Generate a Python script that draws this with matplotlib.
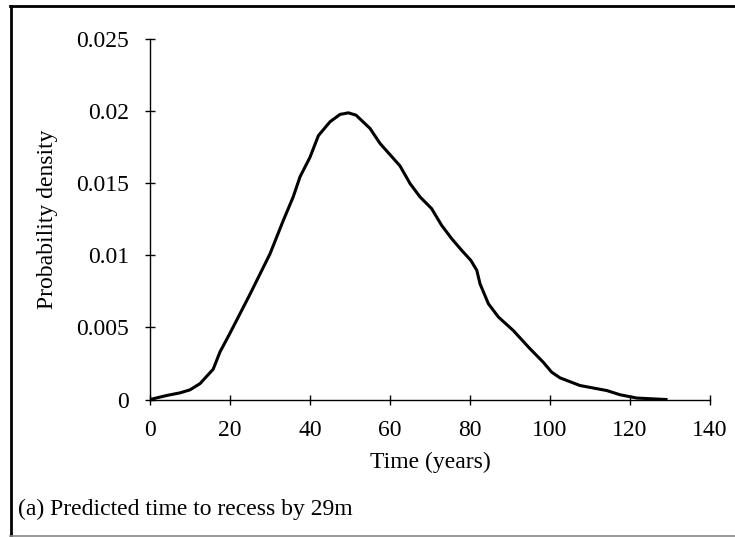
import matplotlib
matplotlib.use("Agg")
import matplotlib.pyplot as plt
from matplotlib.lines import Line2D

time_years = [0, 4.2, 7.5, 10, 12.5, 15.8, 17.5, 20, 25, 30, 33.3, 35.8, 37.5, 40, 42.1, 45,
              47.5, 49.6, 51.5, 55, 57.5, 62.5, 65, 67.5, 70.4, 72.9, 75.4, 77.9, 80.2, 81.7,
              82.5, 84.6, 87.1, 90.8, 95, 98.3, 100.4, 102.5, 107.5, 114.2, 117.5, 121.7, 129]
density = [0, 0.00028, 0.00046, 0.00067, 0.0011, 0.0021, 0.0033, 0.0046, 0.0073, 0.0101,
           0.0124, 0.01405, 0.01544, 0.0168, 0.0183, 0.01926, 0.01977, 0.01988, 0.01972,
           0.0188, 0.01776, 0.0162, 0.01498, 0.01405, 0.01324, 0.01208, 0.01116, 0.01035,
           0.00965, 0.00896, 0.00803, 0.00664, 0.00572, 0.00479, 0.00352, 0.00259, 0.0019,
           0.0015, 0.00097, 0.00062, 0.00033, 0.0001, 0.0]
x_ticks = [0, 20, 40, 60, 80, 100, 120, 140]
y_ticks = [0, 0.005, 0.01, 0.015, 0.02, 0.025]
y_tick_labels = ["0", "0.005", "0.01", "0.015", "0.02", "0.025"]

plt.rcParams['font.family'] = ['Liberation Serif', 'DejaVu Serif']
plt.rcParams['font.size'] = 17

fig = plt.figure(figsize=(7.35, 5.37), dpi=100)
ax = fig.add_axes([150/735, 1 - 399.5/537, 560/735, 360.5/537])
ax.plot(time_years, density, color='black', lw=2.2, solid_joinstyle='round')
ax.set_xlim(0, 140)
ax.set_ylim(0, 0.025)
ax.set_xticks(x_ticks)
ax.set_yticks(y_ticks)
ax.set_yticklabels(y_tick_labels)
for s in ['top', 'right']:
    ax.spines[s].set_visible(False)
for s in ['left', 'bottom']:
    ax.spines[s].set_linewidth(1.0)
ax.tick_params(direction='inout', length=7, width=1.0)
ax.tick_params(axis='y', pad=11.5)
ax.tick_params(axis='x', pad=11)
ax.set_xlabel("Time (years)", labelpad=8)
ax.set_ylabel("Probability density", labelpad=13)

fig.text(18/735, 1 - 509/537, "(a) Predicted time to recess by 29m", ha='left', va='center')

# figure frame
fig.add_artist(Line2D([11/735, 11/735], [1 - 6/537, 1 - 535/537], transform=fig.transFigure,
                      color='black', lw=2.0))
fig.add_artist(Line2D([10/735, 1.0], [1 - 6/537, 1 - 6/537], transform=fig.transFigure,
                      color='black', lw=2.0))
fig.add_artist(Line2D([10/735, 1.0], [1 - 535.5/537, 1 - 535.5/537], transform=fig.transFigure,
                      color='#888888', lw=1.2))

fig.savefig("out.png", dpi=100)
